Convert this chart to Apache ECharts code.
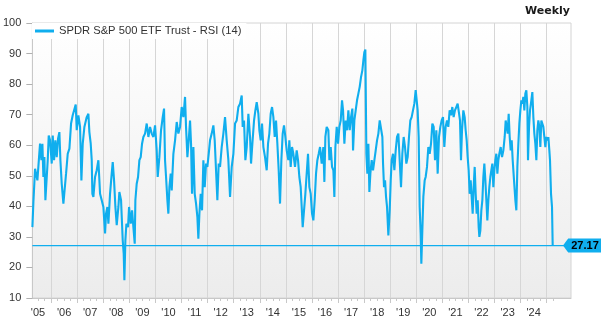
<!DOCTYPE html>
<html><head><meta charset="utf-8">
<script src="https://cdn.jsdelivr.net/npm/echarts@6/dist/echarts.min.js"></script>
<style>html,body{margin:0;padding:0;background:#fff}#c{width:607px;height:323px}</style>
</head><body><div id="c"></div>
<script>
const seriesName = 'SPDR S&P 500 ETF Trust - RSI (14)';
const titleText = 'Weekly';

// decimal-year positions of the weekly readings and the RSI(14) values
const weeksA = [2005.285,2005.323,2005.387,2005.451,2005.476,2005.540,2005.578,2005.629,2005.668,2005.706,
  2005.744,2005.783,2005.834,2005.872,2005.911,2005.962,2006.026,2006.064,2006.115,2006.166,
  2006.217,2006.268,2006.319,2006.358,2006.409,2006.473,2006.537,2006.575,2006.639,2006.703,
  2006.767,2006.830,2006.894,2006.945,2006.984,2007.048,2007.112,2007.163,2007.214,2007.278,
  2007.367,2007.431,2007.469,2007.520,2007.559,2007.584,2007.623,2007.686,2007.750,2007.814,
  2007.878,2007.942,2008.006,2008.070,2008.108,2008.159,2008.198,2008.261,2008.325,2008.364,
  2008.415,2008.466,2008.517,2008.581,2008.619,2008.683,2008.747,2008.785,2008.811,2008.849,
  2008.888,2008.951,2008.990,2009.054,2009.105,2009.156,2009.207,2009.232,2009.283,2009.335,
  2009.386,2009.437,2009.488,2009.539,2009.603,2009.667,2009.731,2009.795,2009.858,2009.922,
  2009.986,2010.050,2010.088,2010.152,2010.216,2010.280,2010.331,2010.369,2010.408,2010.459,
  2010.497,2010.536,2010.587];
const rsiA = [33.2,41.4,52.3,52.3,48.5,56.1,60.5,55.1,60.5,49.6,
  56.1,42.0,41.4,55.1,63.2,61.6,54.0,63.2,55.1,61.6,
  56.1,62.1,64.3,55.1,47.4,40.9,40.9,50.7,57.2,58.9,
  67.1,69.8,70.3,73.3,64.9,69.8,66.0,48.5,60.5,66.0,
  69.2,70.3,64.3,60.5,55.1,44.1,43.1,49.6,51.8,55.1,
  44.1,42.0,39.8,31.1,37.6,39.8,34.3,44.1,50.7,54.5,
  48.5,39.8,33.8,39.8,44.7,42.0,28.9,24.5,15.8,28.9,
  34.3,33.2,39.8,34.3,38.7,33.2,27.8,42.0,47.4,49.6,
  55.1,56.1,60.5,62.7,63.8,67.1,62.7,66.0,63.8,62.7,
  66.5,58.3,49.6,56.1,64.9,69.2,72.0,55.1,49.6,42.0,
  37.6,46.3,50.7];

const weeksB = [2010.625,2010.689,2010.753,2010.817,2010.880,2010.944,2011.008,2011.072,2011.136,2011.174,
  2011.226,2011.277,2011.328,2011.366,2011.404,2011.456,2011.507,2011.558,2011.609,2011.647,
  2011.686,2011.737,2011.788,2011.839,2011.890,2011.941,2011.992,2012.043,2012.094,2012.158,
  2012.222,2012.273,2012.324,2012.375,2012.426,2012.477,2012.541,2012.605,2012.669,2012.733,
  2012.797,2012.861,2012.925,2012.989,2013.053,2013.116,2013.180,2013.244,2013.308,2013.346,
  2013.397,2013.449,2013.500,2013.564,2013.628,2013.666,2013.717,2013.781,2013.832,2013.883,
  2013.947,2013.985,2014.036,2014.087,2014.139,2014.202,2014.266,2014.317,2014.368,2014.419,
  2014.471,2014.522,2014.573,2014.624,2014.675,2014.726,2014.777,2014.828,2014.879,2014.930,
  2014.981,2015.032,2015.096,2015.134,2015.186,2015.237,2015.288,2015.352,2015.416,2015.467,
  2015.518,2015.569,2015.608,2015.646,2015.697,2015.748,2015.799,2015.850,2015.902,2015.953,
  2016.004,2016.055,2016.106,2016.157,2016.208,2016.260];
const rsiB = [45.2,57.2,61.6,67.6,63.8,66.0,72.5,69.2,75.8,66.0,
  56.1,61.6,68.1,60.5,44.1,59.4,44.1,40.9,36.5,29.4,
  37.6,44.1,38.7,55.1,46.3,54.0,52.9,57.2,61.6,63.8,
  66.5,61.6,51.8,42.0,54.0,52.9,59.4,63.8,69.2,61.6,
  55.1,43.1,52.9,57.2,67.1,68.1,72.5,73.6,76.3,66.0,
  68.1,55.1,59.4,70.3,62.7,54.0,60.5,68.1,71.4,74.1,
  70.3,64.9,61.6,67.1,59.4,56.1,51.8,60.5,63.8,70.3,
  72.5,69.2,62.7,68.1,60.5,51.8,40.9,55.1,63.8,66.5,
  62.7,58.3,55.1,61.6,52.9,59.4,57.2,52.9,58.3,55.1,
  49.6,46.3,39.8,33.2,38.7,44.1,50.7,57.2,46.3,44.1,
  37.6,35.4,42.0,50.7,55.1,57.2];

const weeksC = [2016.311,2016.375,2016.438,2016.477,2016.515,2016.566,2016.630,2016.669,2016.720,2016.771,
  2016.822,2016.860,2016.899,2016.950,2017.001,2017.052,2017.103,2017.154,2017.193,2017.244,
  2017.295,2017.346,2017.397,2017.448,2017.499,2017.550,2017.576,2017.627,2017.678,2017.729,
  2017.780,2017.831,2017.882,2017.933,2017.972,2018.010,2018.048,2018.087,2018.125,2018.164,
  2018.202,2018.240,2018.291,2018.342,2018.394,2018.445,2018.496,2018.547,2018.598,2018.649,
  2018.700,2018.726,2018.764,2018.803,2018.841,2018.879,2018.930,2018.981,2019.020,2019.058,
  2019.109,2019.160,2019.211,2019.262,2019.313,2019.364,2019.415,2019.466,2019.517,2019.568,
  2019.619,2019.670,2019.721,2019.772,2019.823,2019.874,2019.926,2019.977,2020.015,2020.053,
  2020.092,2020.130,2020.168,2020.194,2020.232,2020.271,2020.322,2020.360,2020.411,2020.462,
  2020.514,2020.565,2020.616,2020.667,2020.718,2020.769,2020.820,2020.871,2020.922,2020.973,
  2021.024,2021.075,2021.126,2021.177,2021.228,2021.279,2021.330,2021.381,2021.432,2021.483,
  2021.534,2021.586];
const rsiC = [59.4,54.0,59.4,48.0,62.7,66.0,64.9,55.1,59.4,52.9,
  51.8,43.1,59.4,66.0,60.5,66.0,68.1,74.7,71.4,60.5,
  68.1,64.9,71.4,64.9,69.2,72.0,58.3,68.1,71.4,74.7,
  76.9,79.1,82.3,84.5,87.8,90.5,91.3,57.2,50.7,60.5,
  44.7,50.7,55.1,51.8,55.1,58.3,61.6,63.8,68.1,68.1,
  62.7,54.0,46.3,48.5,43.1,39.8,30.5,38.7,48.5,55.1,
  57.2,51.8,58.3,62.7,63.8,55.1,46.3,57.2,62.7,59.4,
  54.0,56.1,62.7,68.1,69.2,71.4,73.6,78.0,78.5,71.4,
  62.7,39.8,31.1,21.2,32.1,43.1,48.5,49.6,52.9,59.4,
  57.2,60.5,67.1,66.0,55.1,64.9,50.7,62.7,66.0,68.1,
  69.2,59.4,66.0,68.1,66.0,71.4,69.8,72.5,69.2,71.4,
  72.5,73.6];

const weeksD = [2021.676,2021.714,2021.753,2021.804,2021.855,2021.893,2021.932,2021.970,2022.008,2022.047,
  2022.085,2022.124,2022.162,2022.200,2022.239,2022.277,2022.315,2022.354,2022.392,2022.418,
  2022.456,2022.494,2022.533,2022.571,2022.609,2022.648,2022.686,2022.724,2022.763,2022.801,
  2022.839,2022.878,2022.916,2022.954,2022.993,2023.031,2023.069,2023.108,2023.146,2023.184,
  2023.236,2023.287,2023.338,2023.389,2023.427,2023.466,2023.504,2023.542,2023.581,2023.619,
  2023.658,2023.696,2023.747,2023.798,2023.836,2023.875,2023.913,2023.951,2023.990,2024.028,
  2024.066,2024.104,2024.143,2024.181,2024.219,2024.258,2024.283,2024.322,2024.360,2024.411,
  2024.449,2024.488,2024.526,2024.564,2024.603,2024.641,2024.679,2024.718,2024.756,2024.794,
  2024.833,2024.871,2024.909,2024.948,2024.986,2025.024,2025.063,2025.101,2025.126,2025.165,
  2025.203,2025.229];
const rsiD = [68.1,55.1,64.9,71.4,69.2,64.9,61.6,56.1,51.8,44.1,
  48.5,43.1,37.6,46.3,52.9,44.1,37.6,42.0,33.2,30.0,
  32.1,38.7,42.0,49.6,54.0,48.5,42.0,35.4,42.0,46.3,
  49.6,51.8,54.0,46.3,51.8,55.1,57.2,50.7,55.1,57.2,
  59.4,56.1,58.3,62.7,68.1,66.0,63.8,70.3,62.7,58.3,
  61.6,55.1,48.5,42.0,38.7,52.9,60.5,67.1,71.4,74.7,
  73.6,75.8,71.4,76.9,78.0,72.5,55.1,66.0,71.4,74.7,
  77.4,69.2,63.8,60.5,55.1,64.9,68.1,66.0,59.4,68.1,
  68.7,66.0,62.7,59.4,62.7,61.6,62.7,58.3,55.1,44.1,
  39.8,27.17];

const yearStarts = [2006,2007,2008,2009,2010,2011,2012,2013,2014,2015,2016,2017,2018,2019,2020,2021,2022,2023,2024,2025];
const labelYears = [2005,2006,2007,2008,2009,2010,2011,2012,2013,2014,2015,2016,2017,2018,2019,2020,2021,2022,2023,2024];
const yTicks = [10,20,30,40,50,60,70,80,90,100];

const weeks = weeksA.concat(weeksB, weeksC, weeksD);
const rsi = rsiA.concat(rsiB, rsiC, rsiD);
const lastValue = rsi[rsi.length - 1];

const xMin = 2005.283, xMax = 2025.931;
const blue = '#10aeee';
const font = 'Arial, "Liberation Sans", sans-serif';

const labelValues = labelYears.map(y => y + 0.5);
const quarterTicks = [2005.5, 2005.75];
for (let y = 2006; y <= 2024; y++) quarterTicks.push(y + 0.25, y + 0.5, y + 0.75);
quarterTicks.push(2025.25);

const chart = echarts.init(document.getElementById('c'), null, {renderer: 'canvas'});
chart.setOption({
  animation: false,
  backgroundColor: '#ffffff',
  title: {
    text: titleText, right: 37, top: 6, padding: 0,
    textStyle: {fontFamily: '"DejaVu Sans", Verdana, sans-serif', fontWeight: 'bold', fontSize: 11, color: '#1a1a1a'}
  },
  legend: {
    left: 32, top: 23, padding: [1, 5, 1, 3],
    backgroundColor: '#ffffff',
    icon: 'rect', itemWidth: 19, itemHeight: 3, itemGap: 10,
    textStyle: {fontFamily: font, fontSize: 11.2, color: '#333', lineHeight: 14},
    data: [seriesName]
  },
  grid: {
    left: 32.3, right: 36, top: 23, bottom: 25,
    show: true, borderColor: '#d4d4d4', borderWidth: 1,
    backgroundColor: {type: 'linear', x: 0, y: 0, x2: 0, y2: 1,
      colorStops: [{offset: 0, color: '#ffffff'}, {offset: 1, color: '#ececec'}]}
  },
  xAxis: [{
    type: 'value', min: xMin, max: xMax,
    axisLine: {show: true, lineStyle: {color: '#c8c8c8'}},
    axisTick: {show: true, customValues: yearStarts, length: 5, lineStyle: {color: '#c8c8c8'}},
    splitLine: {show: true, lineStyle: {color: '#d6d6d6', width: 1}},
    axisLabel: {customValues: labelValues, margin: 9, fontFamily: font, fontSize: 11, color: '#333',
      formatter: v => "'" + String(Math.floor(v)).slice(2)}
  }, {
    type: 'value', min: xMin, max: xMax, position: 'bottom',
    axisLine: {show: false},
    axisTick: {show: true, customValues: quarterTicks, length: 3, lineStyle: {color: '#c8c8c8'}},
    splitLine: {show: false},
    axisLabel: {show: false}
  }],
  yAxis: {
    type: 'value', min: 10, max: 100, interval: 10,
    axisLine: {show: true, lineStyle: {color: '#c8c8c8'}},
    axisTick: {show: true, length: 6, lineStyle: {color: '#b0b0b0'}},
    splitLine: {show: false},
    axisLabel: {margin: 11, fontFamily: font, fontSize: 11, color: '#333',
      customValues: yTicks}
  },
  series: [{
    name: 'latest', type: 'line', xAxisIndex: 0, silent: true, z: 1,
    data: [[xMin, lastValue], [xMax, lastValue]],
    showSymbol: false, symbol: 'none',
    lineStyle: {color: blue, width: 1.2},
    itemStyle: {color: blue}
  }, {
    name: seriesName, type: 'line', xAxisIndex: 0, z: 2,
    data: weeks.map((w, i) => [w, rsi[i]]),
    showSymbol: false, symbol: 'none',
    lineStyle: {color: blue, width: 2.1},
    itemStyle: {color: blue},
    markPoint: {
      silent: true,
      symbol: 'path://M0,7L6,0L44,0L44,14L6,14Z',
      symbolSize: [38, 14],
      symbolKeepAspect: false,
      symbolOffset: [11, 0],
      itemStyle: {color: blue},
      label: {show: true, position: 'inside', offset: [3, 0], color: '#000', fontFamily: font,
        fontWeight: 'bold', fontSize: 11, formatter: () => lastValue.toFixed(2)},
      data: [{coord: [xMax, lastValue]}]
    }
  }]
});
</script>
</body></html>
